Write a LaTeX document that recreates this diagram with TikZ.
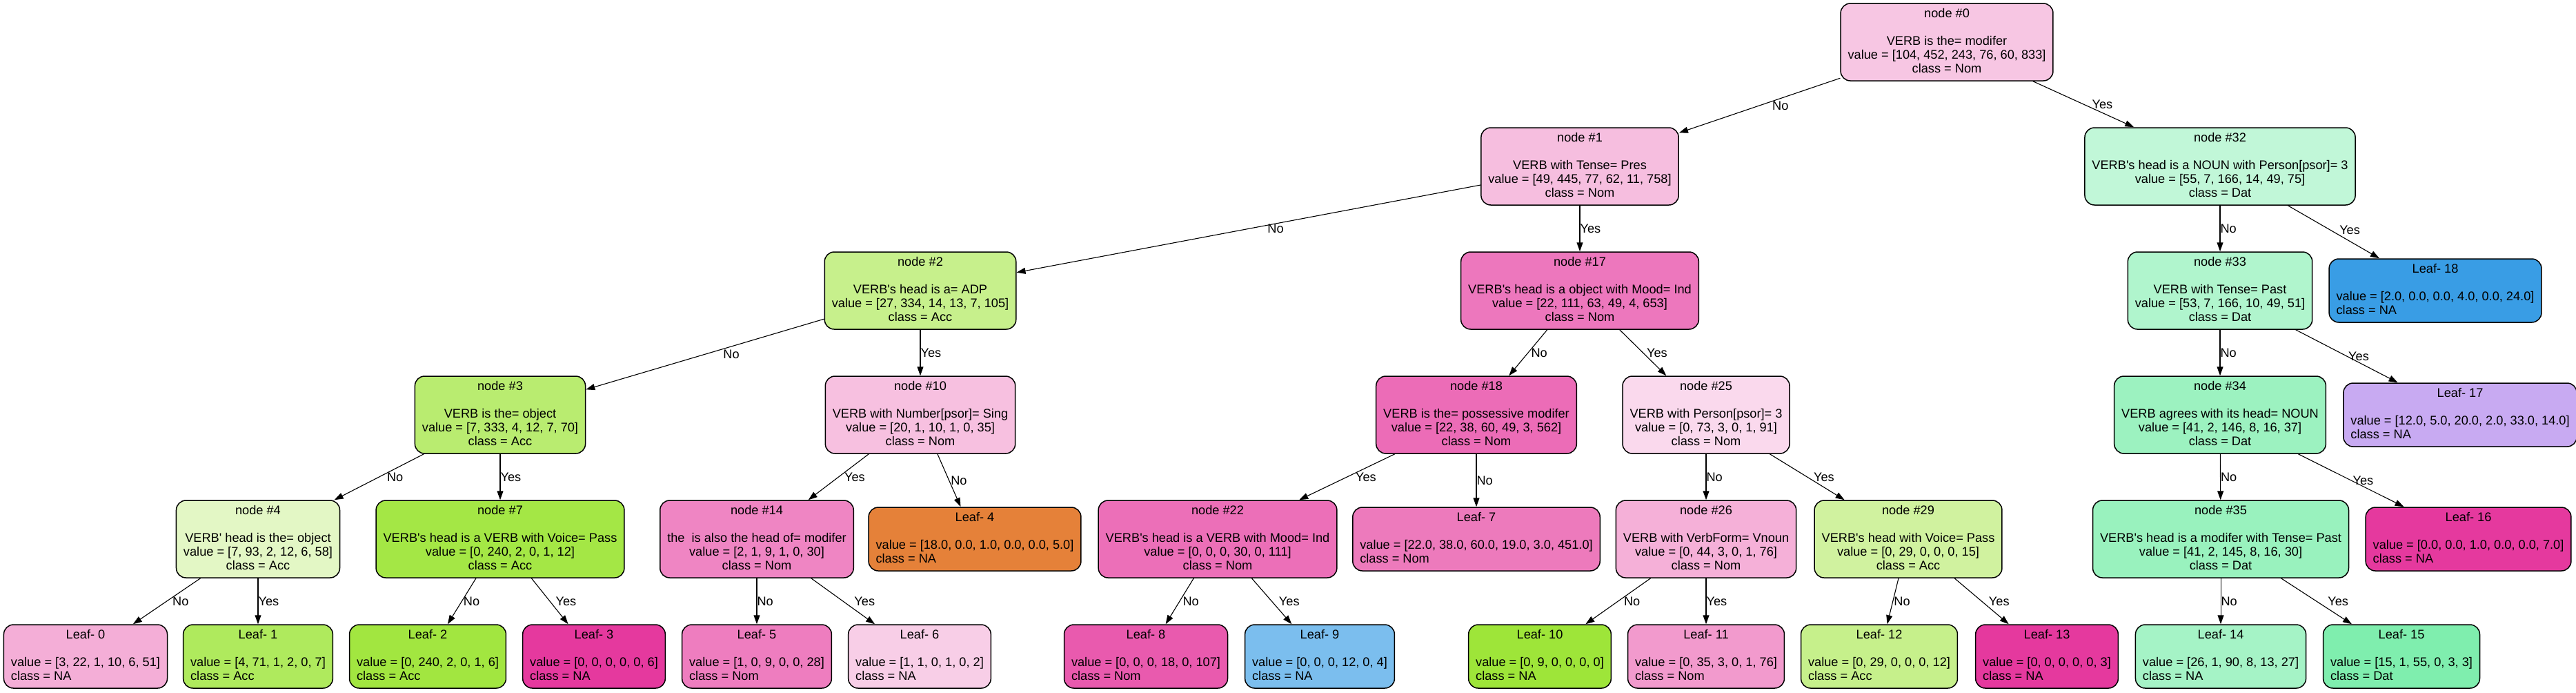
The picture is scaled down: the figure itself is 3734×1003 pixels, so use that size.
\documentclass[tikz,border=0pt]{standalone}
\usepackage{fontspec}
\newfontfamily\treefont{Liberation Sans}
\usetikzlibrary{arrows.meta}
% fills of the boxes
\definecolor{fill0}{RGB}{247,198,227}
\definecolor{fill1}{RGB}{246,190,223}
\definecolor{fill2}{RGB}{199,240,140}
\definecolor{fill3}{RGB}{185,236,112}
\definecolor{fill4}{RGB}{227,247,197}
\definecolor{fill7}{RGB}{164,231,69}
\definecolor{fill10}{RGB}{247,192,224}
\definecolor{fill14}{RGB}{239,133,195}
\definecolor{fill17}{RGB}{237,119,189}
\definecolor{fill18}{RGB}{236,108,183}
\definecolor{fill22}{RGB}{236,111,184}
\definecolor{fill25}{RGB}{250,217,237}
\definecolor{fill26}{RGB}{245,176,216}
\definecolor{fill29}{RGB}{208,242,159}
\definecolor{fill32}{RGB}{193,247,216}
\definecolor{fill33}{RGB}{176,245,205}
\definecolor{fill34}{RGB}{156,242,192}
\definecolor{fill35}{RGB}{153,242,190}
\definecolor{leaf0}{RGB}{244,174,215}
\definecolor{leaf1}{RGB}{175,234,93}
\definecolor{leaf2}{RGB}{162,230,64}
\definecolor{leaf3}{RGB}{229,57,158}
\definecolor{leaf4}{RGB}{229,129,57}
\definecolor{leaf5}{RGB}{238,125,191}
\definecolor{leaf6}{RGB}{248,206,231}
\definecolor{leaf7}{RGB}{237,122,188}
\definecolor{leaf8}{RGB}{233,90,174}
\definecolor{leaf9}{RGB}{123,190,238}
\definecolor{leaf10}{RGB}{158,229,57}
\definecolor{leaf11}{RGB}{242,154,205}
\definecolor{leaf12}{RGB}{198,240,139}
\definecolor{leaf13}{RGB}{229,57,158}
\definecolor{leaf14}{RGB}{165,243,198}
\definecolor{leaf15}{RGB}{127,238,174}
\definecolor{leaf16}{RGB}{229,57,158}
\definecolor{leaf17}{RGB}{200,170,242}
\definecolor{leaf18}{RGB}{57,157,229}
% box texts
\newcommand{\splittext}[4]{\begin{tabular}{@{}c@{}}node \##1\\ \\#2\\value = [#3]\\class = #4\end{tabular}}
\newcommand{\leaftext}[3]{\begin{tabular}{@{}l@{}}\multicolumn{1}{@{}c@{}}{Leaf- #1}\\ \\value = [#2]\\class = #3\end{tabular}}

\begin{document}
\begin{tikzpicture}[x=0.5pt,y=-0.5pt,>={Triangle[length=6.5pt,width=4.5pt]},
  every node/.style={font=\treefont\fontsize{9.1}{10}\selectfont},
  testnode/.style={draw=black,line width=0.75pt,rounded corners=7pt,inner xsep=5.25pt,inner ysep=3pt},
  leafnode/.style={testnode},
  branch/.style={->,line width=0.55pt},
  answer/.style={anchor=west,inner sep=0pt}]
\useasboundingbox (0,0) rectangle (3734,1003);
% level 0 and 1
\node[testnode,fill=fill0] (n0) at (2822,61) {\splittext{0}{VERB is the= modifer}{104, 452, 243, 76, 60, 833}{Nom}};
\node[testnode,fill=fill1] (n1) at (2290,241) {\splittext{1}{VERB with Tense= Pres}{49, 445, 77, 62, 11, 758}{Nom}};
\node[testnode,fill=fill32] (n32) at (3218,241) {\splittext{32}{VERB's head is a NOUN with Person[psor]= 3}{55, 7, 166, 14, 49, 75}{Dat}};
% level 2
\node[testnode,fill=fill2] (n2) at (1334,421) {\splittext{2}{VERB's head is a= ADP}{27, 334, 14, 13, 7, 105}{Acc}};
\node[testnode,fill=fill17] (n17) at (2290,421) {\splittext{17}{VERB's head is a object with Mood= Ind}{22, 111, 63, 49, 4, 653}{Nom}};
\node[testnode,fill=fill33] (n33) at (3218,421) {\splittext{33}{VERB with Tense= Past}{53, 7, 166, 10, 49, 51}{Dat}};
\node[leafnode,fill=leaf18] (l18) at (3530,421) {\leaftext{18}{2.0, 0.0, 0.0, 4.0, 0.0, 24.0}{NA}};
% level 3
\node[testnode,fill=fill3] (n3) at (725,601) {\splittext{3}{VERB is the= object}{7, 333, 4, 12, 7, 70}{Acc}};
\node[testnode,fill=fill10] (n10) at (1334,601) {\splittext{10}{VERB with Number[psor]= Sing}{20, 1, 10, 1, 0, 35}{Nom}};
\node[testnode,fill=fill18] (n18) at (2140,601) {\splittext{18}{VERB is the= possessive modifer}{22, 38, 60, 49, 3, 562}{Nom}};
\node[testnode,fill=fill25] (n25) at (2473,601) {\splittext{25}{VERB with Person[psor]= 3}{0, 73, 3, 0, 1, 91}{Nom}};
\node[testnode,fill=fill34] (n34) at (3218,601) {\splittext{34}{VERB agrees with its head= NOUN}{41, 2, 146, 8, 16, 37}{Dat}};
\node[leafnode,fill=leaf17] (l17) at (3566,601) {\leaftext{17}{12.0, 5.0, 20.0, 2.0, 33.0, 14.0}{NA}};
% level 4
\node[testnode,fill=fill4] (n4) at (374,781) {\splittext{4}{VERB' head is the= object}{7, 93, 2, 12, 6, 58}{Acc}};
\node[testnode,fill=fill7] (n7) at (725,781) {\splittext{7}{VERB's head is a VERB with Voice= Pass}{0, 240, 2, 0, 1, 12}{Acc}};
\node[testnode,fill=fill14] (n14) at (1097,781) {\splittext{14}{the\ \ is also the head of= modifer}{2, 1, 9, 1, 0, 30}{Nom}};
\node[leafnode,fill=leaf4] (l4) at (1413,781) {\leaftext{4}{18.0, 0.0, 1.0, 0.0, 0.0, 5.0}{NA}};
\node[testnode,fill=fill22] (n22) at (1765,781) {\splittext{22}{VERB's head is a VERB with Mood= Ind}{0, 0, 0, 30, 0, 111}{Nom}};
\node[leafnode,fill=leaf7] (l7) at (2140,781) {\leaftext{7}{22.0, 38.0, 60.0, 19.0, 3.0, 451.0}{Nom}};
\node[testnode,fill=fill26] (n26) at (2473,781) {\splittext{26}{VERB with VerbForm= Vnoun}{0, 44, 3, 0, 1, 76}{Nom}};
\node[testnode,fill=fill29] (n29) at (2766,781) {\splittext{29}{VERB's head with Voice= Pass}{0, 29, 0, 0, 0, 15}{Acc}};
\node[testnode,fill=fill35] (n35) at (3219,781) {\splittext{35}{VERB's head is a modifer with Tense= Past}{41, 2, 145, 8, 16, 30}{Dat}};
\node[leafnode,fill=leaf16] (l16) at (3578,781) {\leaftext{16}{0.0, 0.0, 1.0, 0.0, 0.0, 7.0}{NA}};
% level 5, leaves only
\node[leafnode,fill=leaf0] (l0) at (124,951) {\leaftext{0}{3, 22, 1, 10, 6, 51}{NA}};
\node[leafnode,fill=leaf1] (l1) at (374,951) {\leaftext{1}{4, 71, 1, 2, 0, 7}{Acc}};
\node[leafnode,fill=leaf2] (l2) at (620,951) {\leaftext{2}{0, 240, 2, 0, 1, 6}{Acc}};
\node[leafnode,fill=leaf3] (l3) at (861,951) {\leaftext{3}{0, 0, 0, 0, 0, 6}{NA}};
\node[leafnode,fill=leaf5] (l5) at (1097,951) {\leaftext{5}{1, 0, 9, 0, 0, 28}{Nom}};
\node[leafnode,fill=leaf6] (l6) at (1333,951) {\leaftext{6}{1, 1, 0, 1, 0, 2}{NA}};
\node[leafnode,fill=leaf8] (l8) at (1661,951) {\leaftext{8}{0, 0, 0, 18, 0, 107}{Nom}};
\node[leafnode,fill=leaf9] (l9) at (1913,951) {\leaftext{9}{0, 0, 0, 12, 0, 4}{NA}};
\node[leafnode,fill=leaf10] (l10) at (2232,951) {\leaftext{10}{0, 9, 0, 0, 0, 0}{NA}};
\node[leafnode,fill=leaf11] (l11) at (2473,951) {\leaftext{11}{0, 35, 3, 0, 1, 76}{Nom}};
\node[leafnode,fill=leaf12] (l12) at (2724,951) {\leaftext{12}{0, 29, 0, 0, 0, 12}{Acc}};
\node[leafnode,fill=leaf13] (l13) at (2967,951) {\leaftext{13}{0, 0, 0, 0, 0, 3}{NA}};
\node[leafnode,fill=leaf14] (l14) at (3219,951) {\leaftext{14}{26, 1, 90, 8, 13, 27}{NA}};
\node[leafnode,fill=leaf15] (l15) at (3481,951) {\leaftext{15}{15, 1, 55, 0, 3, 3}{Dat}};
% branches
\draw[branch] (n0) -- node[answer,xshift=9pt] {No} (n1);
\draw[branch] (n0) -- node[answer,xshift=6pt] {Yes} (n32);
\draw[branch] (n1) -- node[answer,xshift=13.5pt] {No} (n2);
\draw[branch] (n1) -- node[answer] {Yes} (n17);
\draw[branch] (n2) -- node[answer,xshift=13pt] {No} (n3);
\draw[branch] (n2) -- node[answer] {Yes} (n10);
\draw[branch] (n3) -- node[answer,xshift=5.5pt] {No} (n4);
\draw[branch] (n3) -- node[answer] {Yes} (n7);
\draw[branch] (n4) -- node[answer,xshift=4pt] {No} (l0);
\draw[branch] (n4) -- node[answer] {Yes} (l1);
\draw[branch] (n7) -- node[answer,xshift=1pt] {No} (l2);
\draw[branch] (n7) -- node[answer,xshift=4pt] {Yes} (l3);
\draw[branch] (n10) -- node[answer,xshift=4pt] {Yes} (n14);
\draw[branch] (n10) -- node[answer,xshift=1pt] {No} (l4);
\draw[branch] (n14) -- node[answer] {No} (l5);
\draw[branch] (n14) -- node[answer,xshift=8pt] {Yes} (l6);
\draw[branch] (n17) -- node[answer,xshift=2pt] {No} (n18);
\draw[branch] (n17) -- node[answer,xshift=2.5pt] {Yes} (n25);
\draw[branch] (n18) -- node[answer,xshift=6pt] {Yes} (n22);
\draw[branch] (n18) -- node[answer] {No} (l7);
\draw[branch] (n22) -- node[answer,xshift=2pt] {No} (l8);
\draw[branch] (n22) -- node[answer,xshift=5pt] {Yes} (l9);
\draw[branch] (n25) -- node[answer] {No} (n26);
\draw[branch] (n25) -- node[answer,xshift=4.5pt] {Yes} (n29);
\draw[branch] (n26) -- node[answer,xshift=4pt] {No} (l10);
\draw[branch] (n26) -- node[answer] {Yes} (l11);
\draw[branch] (n29) -- node[answer,xshift=0.5pt] {No} (l12);
\draw[branch] (n29) -- node[answer,xshift=5pt] {Yes} (l13);
\draw[branch] (n32) -- node[answer] {No} (n33);
\draw[branch] (n32) -- node[answer,xshift=4pt,yshift=1.5pt] {Yes} (l18);
\draw[branch] (n33) -- node[answer] {No} (n34);
\draw[branch] (n33) -- node[answer,xshift=1pt] {Yes} (l17);
\draw[branch] (n34) -- node[answer] {No} (n35);
\draw[branch] (n34) -- node[answer,xshift=1pt] {Yes} (l16);
\draw[branch] (n35) -- node[answer] {No} (l14);
\draw[branch] (n35) -- node[answer,xshift=8pt] {Yes} (l15);
\end{tikzpicture}
\end{document}
